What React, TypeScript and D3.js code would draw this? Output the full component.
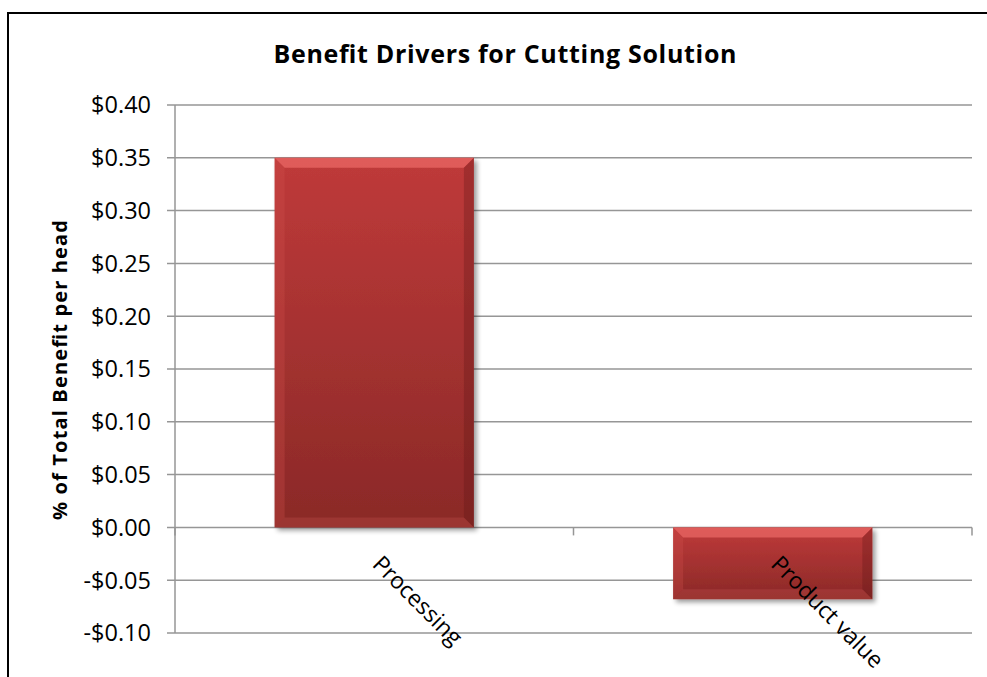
import React from "react";
import * as d3 from "d3";

const categories = ["Processing", "Product value"];
const values = [0.35, -0.068];
const yTicks = [-0.1, -0.05, 0, 0.05, 0.1, 0.15, 0.2, 0.25, 0.3, 0.35, 0.4];
const title = "Benefit Drivers for Cutting Solution";
const yTitle = "% of Total Benefit per head";

const W = 987;
const H = 677;
const plot = { left: 175, right: 972, top: 105, bottom: 633 };
const FONT = "'Open Sans', 'Noto Sans', sans-serif";

export default function App() {
  const y = d3.scaleLinear().domain([-0.1, 0.4]).range([plot.bottom, plot.top]);
  const x = d3.scaleBand().domain(categories).range([plot.left, plot.right]).paddingInner(0.5).paddingOuter(0.25);
  const step = (plot.right - plot.left) / categories.length;
  const fmt = (v: number) => (v < 0 ? "-$" : "$") + Math.abs(v).toFixed(2);
  const y0 = y(0);
  const bev = 10;

  return (
    <svg width={W} height={H} style={{ display: "block", position: "absolute", left: 0, top: 0 }}>
      <defs>
        <linearGradient id="barGrad" x1="0" y1="0" x2="0" y2="1">
          <stop offset="0%" stopColor="#bf3a3a" />
          <stop offset="100%" stopColor="#8a2927" />
        </linearGradient>
        <filter id="shadow" x="-10%" y="-10%" width="130%" height="130%">
          <feGaussianBlur in="SourceAlpha" stdDeviation="2.5" />
          <feOffset dx="3" dy="3" result="ob" />
          <feComponentTransfer><feFuncA type="linear" slope="0.4" /></feComponentTransfer>
          <feMerge><feMergeNode /><feMergeNode in="SourceGraphic" /></feMerge>
        </filter>
      </defs>
      <rect x={0} y={0} width={W} height={H} fill="#fff" />
      <rect x={8} y={13} width={W + 20} height={H + 20} fill="none" stroke="#000" strokeWidth={2} />
      <text x={505} y={63} textAnchor="middle" fontFamily={FONT} fontWeight="bold" fontSize={25} textLength={463} lengthAdjust="spacing" fill="#000">{title}</text>
      {yTicks.map((t) => (
        <g key={t}>
          <line x1={plot.left - 8} x2={plot.right} y1={y(t)} y2={y(t)} stroke="#969696" strokeWidth={1.5} />
          <text x={151} y={y(t)} dy="0.36em" textAnchor="end" fontFamily={FONT} fontSize={23.5} fill="#000">{fmt(t)}</text>
        </g>
      ))}
      <line x1={plot.left} x2={plot.left} y1={plot.top} y2={plot.bottom} stroke="#969696" strokeWidth={1.5} />
      {d3.range(categories.length + 1).map((i) => (
        <line key={i} x1={plot.left + i * step} x2={plot.left + i * step} y1={y0} y2={y0 + 8} stroke="#969696" strokeWidth={1.5} />
      ))}
      {categories.map((c, i) => {
        const bx = x(c)!;
        const bw = x.bandwidth();
        const top = Math.min(y(values[i]), y0);
        const bot = Math.max(y(values[i]), y0);
        const bh = bot - top;
        const r = bx + bw;
        return (
          <g key={c}>
            <rect x={bx} y={top} width={bw} height={bh} fill="url(#barGrad)" filter="url(#shadow)" />
            <polygon points={`${bx},${top} ${r},${top} ${r - bev},${top + bev} ${bx + bev},${top + bev}`} fill="#ec6b68" opacity={0.7} />
            <polygon points={`${bx},${top} ${bx + bev},${top + bev} ${bx + bev},${bot - bev} ${bx},${bot}`} fill="#d0504d" opacity={0.3} />
            <polygon points={`${r},${top} ${r},${bot} ${r - bev},${bot - bev} ${r - bev},${top + bev}`} fill="#5e1414" opacity={0.3} />
            <polygon points={`${bx},${bot} ${r},${bot} ${r - bev},${bot - bev} ${bx + bev},${bot - bev}`} fill="#d05a58" opacity={0.25} />
          </g>
        );
      })}
      {categories.map((c, i) => {
        const cx = plot.left + (i + 0.5) * step - 3;
        const cy = y0 + 38;
        return (
          <text key={c} x={cx} y={cy} fontFamily={FONT} fontSize={23} fill="#000" transform={`rotate(45 ${cx} ${cy})`}>{c}</text>
        );
      })}
      <text transform={`translate(67 370) rotate(-90)`} textAnchor="middle" fontFamily={FONT} fontWeight="bold" fontSize={20} textLength={300} lengthAdjust="spacing" fill="#000">{yTitle}</text>
    </svg>
  );
}
